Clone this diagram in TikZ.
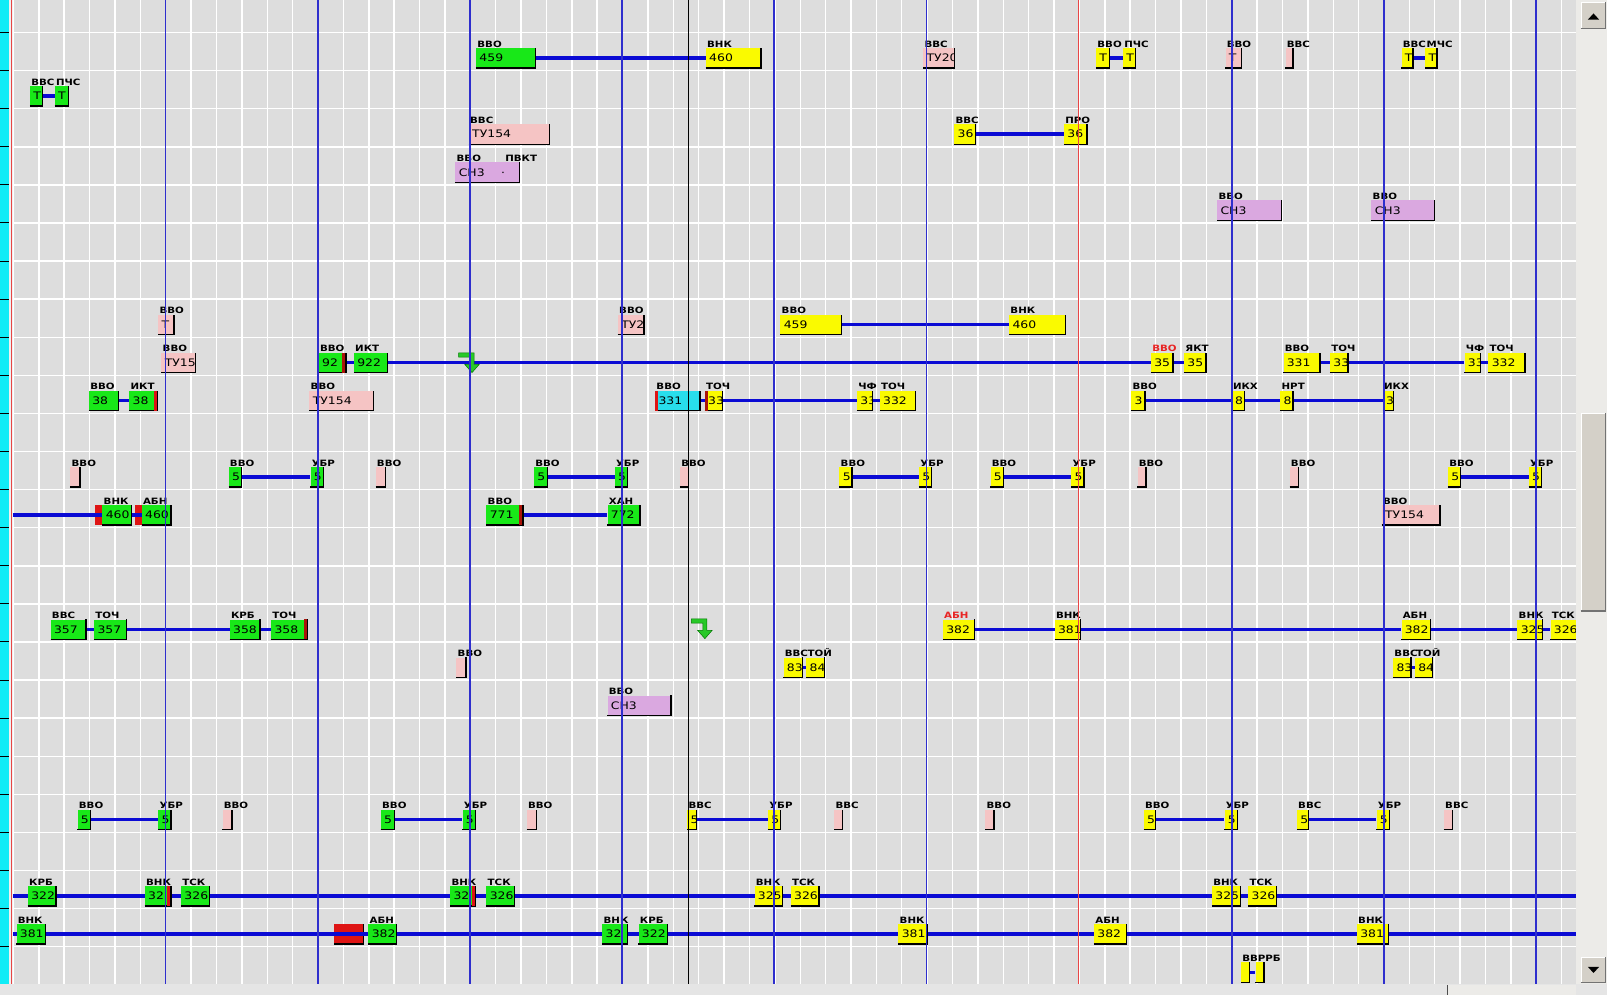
\documentclass[tikz,border=0pt]{standalone}
\usepackage{fontspec}
\newfontfamily\lblfont[FakeStretch=1.18]{DejaVu Sans Bold}
\newfontfamily\btxfont[FakeStretch=1.2]{DejaVu Sans}
\pgfdeclarelayer{bg}\pgfdeclarelayer{cl}\pgfdeclarelayer{fr}
\pgfsetlayers{bg,cl,main,fr}
\definecolor{bgc}{RGB}{221,221,221}
\definecolor{grn}{RGB}{24,232,24}
\definecolor{yel}{RGB}{250,250,0}
\definecolor{pnk}{RGB}{245,196,196}
\definecolor{lil}{RGB}{218,168,224}
\definecolor{cyn}{RGB}{40,222,236}
\definecolor{rblk}{RGB}{222,20,20}
\definecolor{brn}{RGB}{170,20,10}
\definecolor{cblue}{RGB}{10,10,212}
\definecolor{vblue}{RGB}{46,46,205}
\definecolor{lred}{RGB}{232,36,36}
\definecolor{vred}{RGB}{232,70,70}
\definecolor{cyanl}{RGB}{16,236,246}
\definecolor{btn}{RGB}{212,208,200}
\definecolor{trk}{RGB}{236,235,232}
\definecolor{agrn}{RGB}{40,200,40}
\definecolor{adrk}{RGB}{0,120,0}
\tikzset{
  gbar/.style={rectangle,inner sep=0pt,minimum height=19pt,draw=none},
  shd/.style={black,line width=1.2pt},
  lbl/.style={anchor=base west,inner sep=0pt,font=\lblfont\fontsize{8.4}{9}\selectfont},
  btx/.style={anchor=west,inner sep=0pt,font=\btxfont\fontsize{10}{10}\selectfont},
  conn/.style={draw=cblue,line width=3.2pt},
  gridl/.style={white,line width=1.4pt},
  vbl/.style={vblue,line width=1.6pt},
  redblock/.style={rectangle,inner sep=0pt,minimum height=19pt,fill=rblk},
  icon/.style={fill=agrn,draw=adrk,line width=0.5pt},
}
% name, x1, x2, y, fill, text, label ; optional label colour
\newcommand\gb[8][black]{%
  \node[gbar,fill=#6,minimum width={(#4-#3)*1pt}] (#2) at ({(#3+#4)/2},#5) {};
  \begin{scope}
    \clip (#2.north west) rectangle (#2.south east);
    \node[btx] (#2-t) at (#3+3,#5) {#7};
  \end{scope}
  \draw[shd] (#2.south west) -- (#2.south east) -- (#2.north east);
  \node[lbl,text=#1] (#2-l) at (#3+1,#5-10.5) {#8};
}
\newcommand\redR[2][rblk]{\fill[#1] ([xshift=-3.5pt]#2.north east) rectangle ([xshift=-0.6pt]#2.south east);}
\newcommand\redL[2][rblk]{\fill[#1] (#2.north west) rectangle ([xshift=3pt]#2.south west);}
\newcommand\garrow[2]{%
  \filldraw[icon] (#1,#2) -- ++(15,0) -- ++(0,11) -- ++(5,0) -- ++(-7,8) -- ++(-7,-8) -- ++(5,0) -- ++(0,-7) -- ++(-11,0) -- cycle;}
\begin{document}
\begin{tikzpicture}[x=1pt,y=-1pt]
\useasboundingbox (0,0) rectangle (1568,961);
\begin{pgfonlayer}{bg}
  \fill[bgc] (0,0) rectangle (1568,961);
  \foreach \i in {0,...,61} \draw[gridl] ({13+24.52*\i},0) -- ({13+24.52*\i},951);
  \foreach \m in {0,...,25} \draw[gridl] (13,{31.4+36.8*\m}) -- (1523,{31.4+36.8*\m});
  % left strip
  \fill[cyanl] (0,0) rectangle (8.3,951);
  \foreach \m in {0,...,25} \draw[black,line width=1pt] (0,{31.4+36.8*\m}) -- (8.3,{31.4+36.8*\m});
  \fill[white!94!black] (8.3,0) rectangle (13,951);
  \draw[vred,line width=1.3pt] (10.8,0) -- (10.8,951);
  % red blocks (under connectors)
  \node[redblock,minimum width=7pt] (j0) at (95.5,497.6) {};
  \node[redblock,minimum width=7pt] (j2) at (133.5,497.6) {};
  \node[redblock,minimum width=28pt] (pr) at (337,902.4) {};
  \draw[shd] (pr.south west) -- (pr.south east) -- (pr.north east);
\end{pgfonlayer}
\coordinate (L12) at (13,497.6);
\coordinate (L22) at (13,865.6);
\coordinate (R22) at (1523,865.6);
\coordinate (L23) at (13,902.4);
\coordinate (R23) at (1523,902.4);
% Row 0
\gb{a459}{460}{517}{56}{grn}{459}{ВВО}
\gb{a460}{682}{735}{56}{yel}{460}{ВНК}
\gb{atu}{892}{922}{56}{pnk}{ТУ20}{ВВС}
\gb{apa}{1059}{1072}{56}{yel}{Т}{ВВО}
\gb{apb}{1085}{1097}{56}{yel}{Т}{ПЧС}
\gb{at}{1184}{1199}{56}{pnk}{Т}{ВВО}
\gb{avs}{1242}{1249}{56}{pnk}{}{ВВС}
\gb{ama}{1354}{1365}{56}{yel}{Т}{ВВС}
\gb{amb}{1377}{1388}{56}{yel}{Т}{МЧС}
% Row 1
\gb{bpa}{29}{41}{92.8}{grn}{Т}{ВВС}
\gb{bpb}{53}{66}{92.8}{grn}{Т}{ПЧС}
% Row 2
\gb{ctu}{453}{531}{129.6}{pnk}{ТУ154}{ВВС}
\gb{c36a}{922}{942}{129.6}{yel}{36}{ВВС}
\gb{c36b}{1028}{1050}{129.6}{yel}{36}{ПРО}
% Row 3
\gb{dch}{440}{502}{166.4}{lil}{СН3\hspace{16pt}·}{ВВО}
\node[lbl] (dl2) at (488,155.9) {ПВКТ};
% Row 4
\gb{ech1}{1176}{1238}{203.2}{lil}{СН3}{ВВО}
\gb{ech2}{1325}{1386}{203.2}{lil}{СН3}{ВВО}
% Row 7
\gb{ft}{153}{168}{313.6}{pnk}{Т}{ВВО}
\gb{ftu}{597}{622}{313.6}{pnk}{ТУ2}{ВВО}
\gb{f459}{754}{813}{313.6}{yel}{459}{ВВО}
\gb{f460}{975}{1029}{313.6}{yel}{460}{ВНК}
% Row 8
\gb{gtu}{156}{189}{350.4}{pnk}{ТУ15}{ВВО}
\gb{g92}{308}{334}{350.4}{grn}{92}{ВВО}\redR[brn]{g92}
\gb{g922}{342}{374}{350.4}{grn}{922}{ИКТ}
\gb[lred]{g35a}{1112}{1133}{350.4}{yel}{35}{ВВО}
\gb{g35b}{1144}{1165}{350.4}{yel}{35}{ЯКТ}
\gb{g331}{1240}{1275}{350.4}{yel}{331}{ВВО}
\gb{g33}{1285}{1302}{350.4}{yel}{33}{ТОЧ}
\gb{g3}{1415}{1430}{350.4}{yel}{33}{ЧФ}
\gb{g332}{1438}{1473}{350.4}{yel}{332}{ТОЧ}
% Row 9
\gb{h38a}{86}{114}{387.2}{grn}{38}{ВВО}
\gb{h38b}{125}{152}{387.2}{grn}{38}{ИКТ}\redR{h38b}
\gb{htu}{299}{361}{387.2}{pnk}{ТУ154}{ВВО}
\gb{h331}{633}{676}{387.2}{cyn}{331}{ВВО}\redL{h331}
\gb{h33}{681}{698}{387.2}{yel}{33}{ТОЧ}\redL[brn]{h33}
\gb{h3}{828}{843}{387.2}{yel}{33}{ЧФ}
\gb{h332}{850}{884}{387.2}{yel}{332}{ТОЧ}
\gb{hb3}{1093}{1106}{387.2}{yel}{3}{ВВО}
\gb{hb8}{1190}{1202}{387.2}{yel}{8}{ИКХ}
\gb{hn8}{1237}{1249}{387.2}{yel}{8}{НРТ}
\gb{hk3}{1336}{1346}{387.2}{yel}{3}{ИКХ}
% Row 11
\gb{i1}{68}{77}{460.8}{pnk}{}{ВВО}
\gb{i2}{221}{233}{460.8}{grn}{5}{ВВО}
\gb{i3}{300}{312}{460.8}{grn}{5}{УБР}
\gb{i4}{363}{372}{460.8}{pnk}{}{ВВО}
\gb{i5}{516}{529}{460.8}{grn}{5}{ВВО}
\gb{i6}{594}{606}{460.8}{grn}{5}{УБР}
\gb{i7}{657}{665}{460.8}{pnk}{}{ВВО}
\gb{i8}{811}{823}{460.8}{yel}{5}{ВВО}
\gb{i9}{888}{900}{460.8}{yel}{5}{УБР}
\gb{i10}{957}{969}{460.8}{yel}{5}{ВВО}
\gb{i11}{1035}{1047}{460.8}{yel}{5}{УБР}
\gb{i12}{1099}{1107}{460.8}{pnk}{}{ВВО}
\gb{i13}{1246}{1254}{460.8}{pnk}{}{ВВО}
\gb{i14}{1399}{1411}{460.8}{yel}{5}{ВВО}
\gb{i15}{1477}{1489}{460.8}{yel}{5}{УБР}
% Row 12
\gb{j1}{99}{127}{497.6}{grn}{460}{ВНК}
\gb{j3}{137}{165}{497.6}{grn}{460}{АБН}
\gb{j771}{470}{505}{497.6}{grn}{771}{ВВО}\redR[brn]{j771}
\gb{j772}{587}{618}{497.6}{grn}{772}{ХАН}
\gb{jtu}{1335}{1391}{497.6}{pnk}{ТУ154}{ВВО}
% Row 15
\gb{k357a}{49}{83}{608}{grn}{357}{ВВС}
\gb{k357b}{91}{122}{608}{grn}{357}{ТОЧ}
\gb{k358a}{222}{251}{608}{grn}{358}{КРБ}
\gb{k358b}{262}{297}{608}{grn}{358}{ТОЧ}\redR[brn]{k358b}
\gb[lred]{k382a}{911}{941}{608}{yel}{382}{АБН}
\gb{k381}{1019}{1044}{608}{yel}{381}{ВНК}
\gb{k382b}{1354}{1382}{608}{yel}{382}{АБН}
\gb{k325}{1466}{1490}{608}{yel}{325}{ВНК}
\gb{k326}{1498}{1524}{608}{yel}{326}{ТСК}
% Row 16
\gb{l3}{441}{450}{644.8}{pnk}{}{ВВО}
\gb{l83a}{757}{775}{644.8}{yel}{83}{ВВС}
\gb{l84a}{779}{796}{644.8}{yel}{84}{ТОЙ}
\gb{l83b}{1346}{1363}{644.8}{yel}{83}{ВВС}
\gb{l84b}{1367}{1384}{644.8}{yel}{84}{ТОЙ}
% Row 17
\gb{mch}{587}{648}{681.6}{lil}{СН3}{ВВО}
% Row 20
\gb{n1}{75}{87}{792}{grn}{5}{ВВО}
\gb{n2}{153}{165}{792}{grn}{5}{УБР}
\gb{n3}{215}{224}{792}{pnk}{}{ВВО}
\gb{n4}{368}{381}{792}{grn}{5}{ВВО}
\gb{n5}{447}{459}{792}{grn}{5}{УБР}
\gb{n6}{509}{518}{792}{pnk}{}{ВВО}
\gb{n7}{664}{673}{792}{yel}{5}{ВВС}
\gb{n8}{742}{754}{792}{yel}{5}{УБР}
\gb{n9}{806}{814}{792}{pnk}{}{ВВС}
\gb{n10}{952}{960}{792}{pnk}{}{ВВО}
\gb{n11}{1105}{1116}{792}{yel}{5}{ВВО}
\gb{n12}{1183}{1195}{792}{yel}{5}{УБР}
\gb{n13}{1253}{1264}{792}{yel}{5}{ВВС}
\gb{n14}{1330}{1342}{792}{yel}{5}{УБР}
\gb{n15}{1395}{1403}{792}{pnk}{}{ВВС}
% Row 22
\gb{o322}{27}{54}{865.6}{grn}{322}{КРБ}
\gb{o32a}{140}{165}{865.6}{grn}{32}{ВНК}\redR{o32a}
\gb{o326a}{175}{202}{865.6}{grn}{326}{ТСК}
\gb{o32b}{435}{459}{865.6}{grn}{32}{ВНК}\redR{o32b}
\gb{o326b}{470}{497}{865.6}{grn}{326}{ТСК}
\gb{o325c}{729}{756}{865.6}{yel}{325}{ВНК}
\gb{o326c}{764}{791}{865.6}{yel}{326}{ТСК}
\gb{o325d}{1171}{1198}{865.6}{yel}{325}{ВНК}
\gb{o326d}{1206}{1233}{865.6}{yel}{326}{ТСК}
% Row 23
\gb{p381a}{16}{44}{902.4}{grn}{381}{ВНК}
\gb{p382a}{356}{383}{902.4}{grn}{382}{АБН}
\gb{p32}{582}{606}{902.4}{grn}{32}{ВНК}
\gb{p322}{617}{645}{902.4}{grn}{322}{КРБ}
\gb{p381b}{868}{896}{902.4}{yel}{381}{ВНК}
\gb{p382b}{1057}{1088}{902.4}{yel}{382}{АБН}
\gb{p381c}{1311}{1341}{902.4}{yel}{381}{ВНК}
% Row 24
\gb{q1}{1199}{1207}{939.2}{yel}{}{ВВРРБ}
\gb{q2}{1213}{1221}{939.2}{yel}{}{}
% connectors
\begin{pgfonlayer}{cl}
  \draw[conn] (a459.east) -- (a460.west);
  \draw[conn] (apa.east) -- (apb.west);
  \draw[conn] (ama.east) -- (amb.west);
  \draw[conn] (bpa.east) -- (bpb.west);
  \draw[conn] (c36a.east) -- (c36b.west);
  \draw[conn] (f459.east) -- (f460.west);
  \draw[conn] (g92.east) -- (g922.west);
  \draw[conn] (g922.east) -- (g35a.west);
  \draw[conn] (g35a.east) -- (g35b.west);
  \draw[conn] (g331.east) -- (g33.west);
  \draw[conn] (g33.east) -- (g3.west);
  \draw[conn] (g3.east) -- (g332.west);
  \draw[conn] (h38a.east) -- (h38b.west);
  \draw[conn] (h331.east) -- (h33.west);
  \draw[conn] (h33.east) -- (h3.west);
  \draw[conn] (h3.east) -- (h332.west);
  \draw[conn] (hb3.east) -- (hb8.west);
  \draw[conn] (hb8.east) -- (hn8.west);
  \draw[conn] (hn8.east) -- (hk3.west);
  \draw[conn] (i2.east) -- (i3.west);
  \draw[conn] (i5.east) -- (i6.west);
  \draw[conn] (i8.east) -- (i9.west);
  \draw[conn] (i10.east) -- (i11.west);
  \draw[conn] (i14.east) -- (i15.west);
  \draw[conn] (L12) -- (j1.west);
  \draw[conn] (j1.east) -- (j3.west);
  \draw[conn] (j771.east) -- (j772.west);
  \draw[conn] (k357a.east) -- (k357b.west);
  \draw[conn] (k357b.east) -- (k358a.west);
  \draw[conn] (k358a.east) -- (k358b.west);
  \draw[conn] (k382a.east) -- (k381.west);
  \draw[conn] (k381.east) -- (k382b.west);
  \draw[conn] (k382b.east) -- (k325.west);
  \draw[conn] (k325.east) -- (k326.west);
  \draw[conn] (l83a.east) -- (l84a.west);
  \draw[conn] (l83b.east) -- (l84b.west);
  \draw[conn] (n1.east) -- (n2.west);
  \draw[conn] (n4.east) -- (n5.west);
  \draw[conn] (n7.east) -- (n8.west);
  \draw[conn] (n11.east) -- (n12.west);
  \draw[conn] (n13.east) -- (n14.west);
  \draw[conn] (L22) -- (R22);
  \draw[conn] (L23) -- (R23);
  \draw[conn] (q1.east) -- (q2.west);
\end{pgfonlayer}
% icons
\garrow{443}{341}
\garrow{668}{598}
% vertical time lines and scrollbars
\begin{pgfonlayer}{fr}
  \foreach \x in {160,307,454,601,748,895,1190,1337,1484}
    \draw[vbl] (\x,0) -- (\x,951);
  \draw[vred,line width=1.5pt] (1042,0) -- (1042,951);
  \draw[black,line width=1.3pt] (665,0) -- (665,951);
  % right scrollbar
  \fill[trk] (1523,0) rectangle (1553,951);
  \fill[white] (1553,0) rectangle (1568,961);
  \fill[white!90!black] (0,951) rectangle (1553,961);
  \fill[trk] (1398,952) rectangle (1523,961);
  \draw[black!70,line width=1pt] (1398,952) -- (1398,961);
  \foreach \ya/\yb in {2/28,925/950,399/591}{
    \fill[btn] (1527,\ya) rectangle (1552,\yb);
    \draw[white,line width=1pt] (1527.5,\yb) -- (1527.5,\ya+0.5) -- (1552,\ya+0.5);
    \draw[black!55,line width=1.2pt] (1527,\yb-0.6) -- (1551.4,\yb-0.6) -- (1551.4,\ya);
  }
  \fill[black] (1534,19) -- (1545,19) -- (1539.5,13) -- cycle;
  \fill[black] (1534,934) -- (1545,934) -- (1539.5,940) -- cycle;
\end{pgfonlayer}
\end{tikzpicture}
\end{document}
